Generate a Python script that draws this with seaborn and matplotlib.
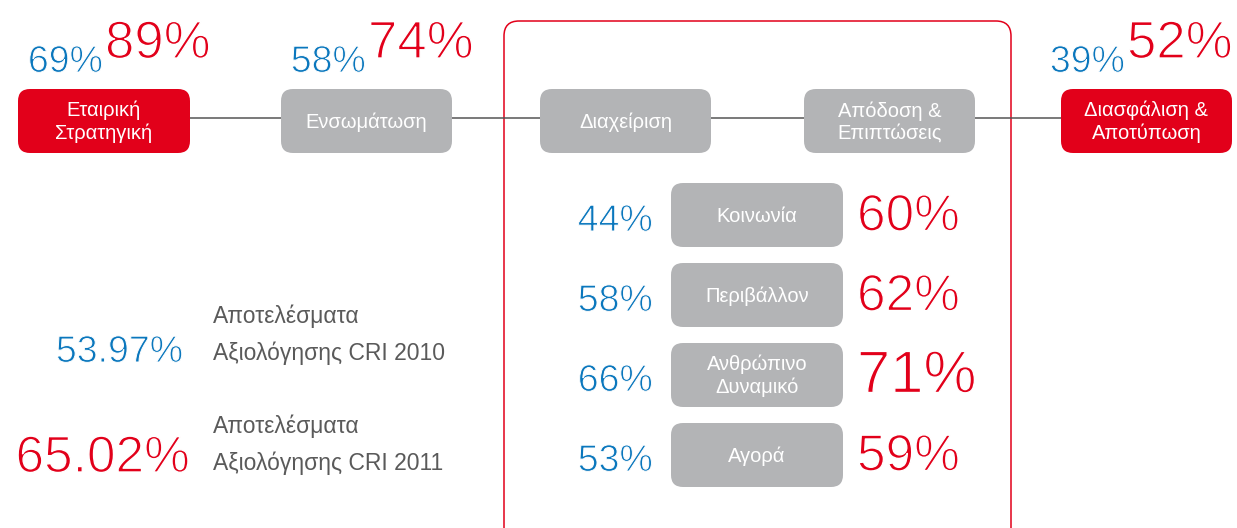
import numpy as np
import pandas as pd
import seaborn as sns
import matplotlib.pyplot as plt
import matplotlib.patheffects as pe
from matplotlib.patches import FancyBboxPatch

# data
stages = ['Εταιρική\nΣτρατηγική', 'Ενσωμάτωση', 'Διαχείριση', 'Απόδοση &\nΕπιπτώσεις', 'Διασφάλιση &\nΑποτύπωση']
stage_2010 = [69, 58, None, None, 39]
stage_2011 = [89, 74, None, None, 52]
areas = ['Κοινωνία', 'Περιβάλλον', 'Ανθρώπινο\nΔυναμικό', 'Αγορά']
area_2010 = [44, 58, 66, 53]
area_2011 = [60, 62, 71, 59]
totals = [53.97, 65.02]
total_labels = ['Αποτελέσματα\nΑξιολόγησης CRI 2010', 'Αποτελέσματα\nΑξιολόγησης CRI 2011']

RED = '#E2001A'
BLUE = '#0A77BD'
GREY = '#B3B4B6'
TXT = '#5a5a5a'

sns.set_theme(style='white')
plt.rcParams['font.family'] = ['Liberation Sans', 'DejaVu Sans']

# thin the glyphs a little (the original uses a light face)
def thin(w, bg='white'):
    return [pe.Stroke(linewidth=w, foreground=bg)]

fig = plt.figure(figsize=(12.37, 5.28), dpi=100)
ax = fig.add_axes([0, 0, 1, 1])
ax.set_xlim(0, 1237)
ax.set_ylim(528, 0)
ax.axis('off')

def rbox(x0, x1, y0, y1, fc, ec='none', lw=0, r=12, z=2):
    p = FancyBboxPatch((x0, y0), x1 - x0, y1 - y0,
                       boxstyle=f'round,pad=0,rounding_size={r}',
                       fc=fc, ec=ec, lw=lw, zorder=z)
    ax.add_patch(p)

# red frame around the middle stages
rbox(504, 1011, 21, 560, 'none', ec=RED, lw=1.1, r=15, z=1)

# top row of stages
stage_x = [(18, 190), (281, 452), (540, 711), (804, 975), (1061, 1232)]
stage_red = [True, False, False, False, True]
ty0, ty1 = 89, 153
ax.plot([stage_x[0][1], stage_x[-1][0]], [118, 118], color='#555555', lw=1.1, zorder=1)
for (x0, x1), lab, red, v10, v11 in zip(stage_x, stages, stage_red, stage_2010, stage_2011):
    fc = RED if red else GREY
    rbox(x0, x1, ty0, ty1, fc)
    ax.text((x0 + x1) / 2, (ty0 + ty1) / 2 + 1, lab, color='white', fontsize=14.5,
            ha='center', va='center', linespacing=1.2, zorder=3)
    if v10 is not None:
        xm = x0 + 86 if x0 < 500 else x0 + 65
        ax.text(xm - 1, 72, f'{v10}%', color=BLUE, fontsize=27, ha='right', va='baseline',
                path_effects=thin(0.7))
        ax.text(xm + 1, 58, f'{v11}%', color=RED, fontsize=38, ha='left', va='baseline',
                path_effects=thin(1.0))

# focus areas
ay = [(183, 247), (263, 327), (343, 407), (423, 487)]
for (y0, y1), lab, v10, v11 in zip(ay, areas, area_2010, area_2011):
    yc = (y0 + y1) / 2
    rbox(671, 843, y0, y1, GREY)
    ax.text(757, yc + 1, lab, color='white', fontsize=14.5, ha='center', va='center',
            linespacing=1.2, zorder=3)
    ax.text(653, yc + 6, f'{v10}%', color=BLUE, fontsize=27, ha='right', va='center',
            path_effects=thin(0.7))
    big = 43 if v11 == max(area_2011) else 37
    ax.text(857, yc + 2, f'{v11}%', color=RED, fontsize=big, ha='left', va='center',
            path_effects=thin(1.0))

# overall CRI results
for y, val, lab, col, fs in zip([362, 472], totals, total_labels, [BLUE, RED], [27, 37]):
    ax.text(183 if col == BLUE else 190, y, f'{val:.2f}%', color=col, fontsize=fs,
            ha='right', va='baseline', path_effects=thin(0.7 if col == BLUE else 1.0))
    l1, l2 = lab.split('\n')
    ax.text(213, y - 39, l1, color=TXT, fontsize=16.5, ha='left', va='baseline')
    ax.text(213, y - 2, l2, color=TXT, fontsize=16.5, ha='left', va='baseline')

fig.savefig('out.png', dpi=100, facecolor='white')
